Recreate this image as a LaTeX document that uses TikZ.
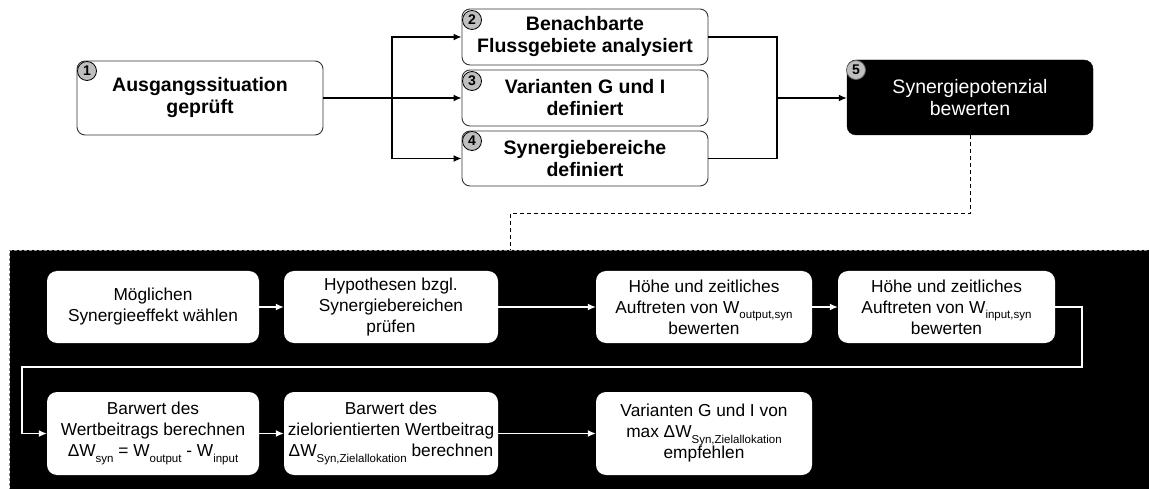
\documentclass[tikz,border=0pt]{standalone}
\usepackage{fontspec}
\setmainfont{Liberation Sans}
\usetikzlibrary{arrows.meta,calc}
\newcommand{\lowsub}[1]{\raisebox{-0.6ex}{\fontsize{11.5}{11.5}\selectfont #1}}
\begin{document}
\begin{tikzpicture}[x=1pt,y=-1pt,
  topbox/.style={draw=black!80, line width=0.9pt, fill=white, rounded corners=8pt,
    minimum width=246pt, inner sep=0pt, align=center,
    font=\fontsize{19.5}{22}\selectfont\bfseries},
  darkbox/.style={draw=black, fill=black, rounded corners=9pt, minimum width=246pt,
    minimum height=75pt, inner sep=0pt, align=center, text=white,
    font=\fontsize{19.5}{22}\selectfont},
  numc/.style={circle, draw=black, line width=0.8pt, fill=black!25, minimum size=19pt,
    inner sep=0pt, font=\fontsize{14}{14}\selectfont\bfseries},
  subbox/.style={fill=white, draw=none, rounded corners=10pt, inner sep=0pt,
    align=center, font=\fontsize{17.3}{21}\selectfont},
  conn/.style={draw=black, line width=1.3pt},
  arr/.style={conn, -{Latex[length=8pt,width=7pt]}},
  warr/.style={draw=white, line width=1.3pt, -{Latex[length=8pt,width=7pt]}},
  wline/.style={draw=white, line width=1.3pt},
  dline/.style={draw=black, line width=1pt, dash pattern=on 4pt off 3pt}
]
\useasboundingbox (0,0) rectangle (1149,489);

% top row
\node[topbox, minimum height=74pt] (b1) at (200,98) {Ausgangssituation\\geprüft};
\node[topbox, minimum height=56pt] (b2) at (585,37) {Benachbarte\\Flussgebiete analysiert};
\node[topbox, minimum height=56pt] (b3) at (585,98) {Varianten G und I\\definiert};
\node[topbox, minimum height=55pt] (b4) at (585,158.5) {Synergiebereiche\\definiert};
\node[darkbox] (b5) at (970,97.5) {Synergiepotenzial\\bewerten};

\node[numc] (n1) at (87,71) {1};
\node[numc] (n2) at (472,20) {2};
\node[numc] (n3) at (472,81) {3};
\node[numc] (n4) at (472,141) {4};
\node[numc, draw=black!60] (n5) at (856,70) {5};

\coordinate (jl) at (392,98);
\coordinate (jr) at (777,98);
\draw[conn] (b1.east) -- (jl);
\draw[arr] (jl) |- (b2.west);
\draw[arr] (jl) -- (b3.west);
\draw[arr] (jl) |- (b4.west);
\draw[conn] (b2.east) -| (jr);
\draw[conn] (b4.east) -| (jr);
\draw[arr] (jr) -- (jr -| b5.west);

% panel
\node[draw=black!45, dash pattern=on 3pt off 2pt, line width=1pt, fill=black,
  minimum width=1145pt, minimum height=242pt, inner sep=0pt, anchor=north west]
  (panel) at (9,250) {};

\coordinate (d1) at (970,214);
\coordinate (d2) at (510,214);
\draw[dline] (b5.south) -- (d1) -- (d2) -- (d2 |- panel.north);

% bottom rows
\node[subbox, minimum width=212pt, minimum height=72pt] (s1) at (153,307)
  {Möglichen\\Synergieeffekt wählen};
\node[subbox, minimum width=214pt, minimum height=72pt] (s2) at (391,307)
  {Hypothesen bzgl.\\Synergiebereichen\\prüfen};
\node[subbox, minimum width=216pt, minimum height=72pt] (s3) at (704,307)
  {Höhe und zeitliches\\Auftreten von W\lowsub{output,syn}\\bewerten};
\node[subbox, minimum width=217pt, minimum height=72pt] (s4) at (946.5,307)
  {Höhe und zeitliches\\Auftreten von W\lowsub{input,syn}\\bewerten};
\node[subbox, minimum width=212pt, minimum height=83pt] (s5) at (153,433.5)
  {Barwert des\\Wertbeitrags berechnen\\ΔW\lowsub{syn} = W\lowsub{output} - W\lowsub{input}};
\node[subbox, minimum width=214pt, minimum height=83pt] (s6) at (391,433.5)
  {Barwert des\\zielorientierten Wertbeitrag\\ΔW\lowsub{Syn,Zielallokation} berechnen};
\node[subbox, minimum width=216pt, minimum height=83pt] (s7) at (704,433.5)
  {Varianten G und I von\\max ΔW\lowsub{Syn,Zielallokation}\\empfehlen};

\draw[warr] (s1.east) -- (s2.west);
\draw[warr] (s2.east) -- (s3.west);
\draw[warr] (s3.east) -- (s4.west);
\coordinate (l1) at (1082,307);
\coordinate (l2) at (1082,367);
\coordinate (l3) at (22,367);
\coordinate (l4) at (22,433.5);
\draw[wline] (s4.east) -- (l1) -- (l2) -- (l3) -- (l4);
\draw[warr] (l4) -- (s5.west);
\draw[warr] (s5.east) -- (s6.west);
\draw[warr] (s6.east) -- (s7.west);
\end{tikzpicture}
\end{document}
